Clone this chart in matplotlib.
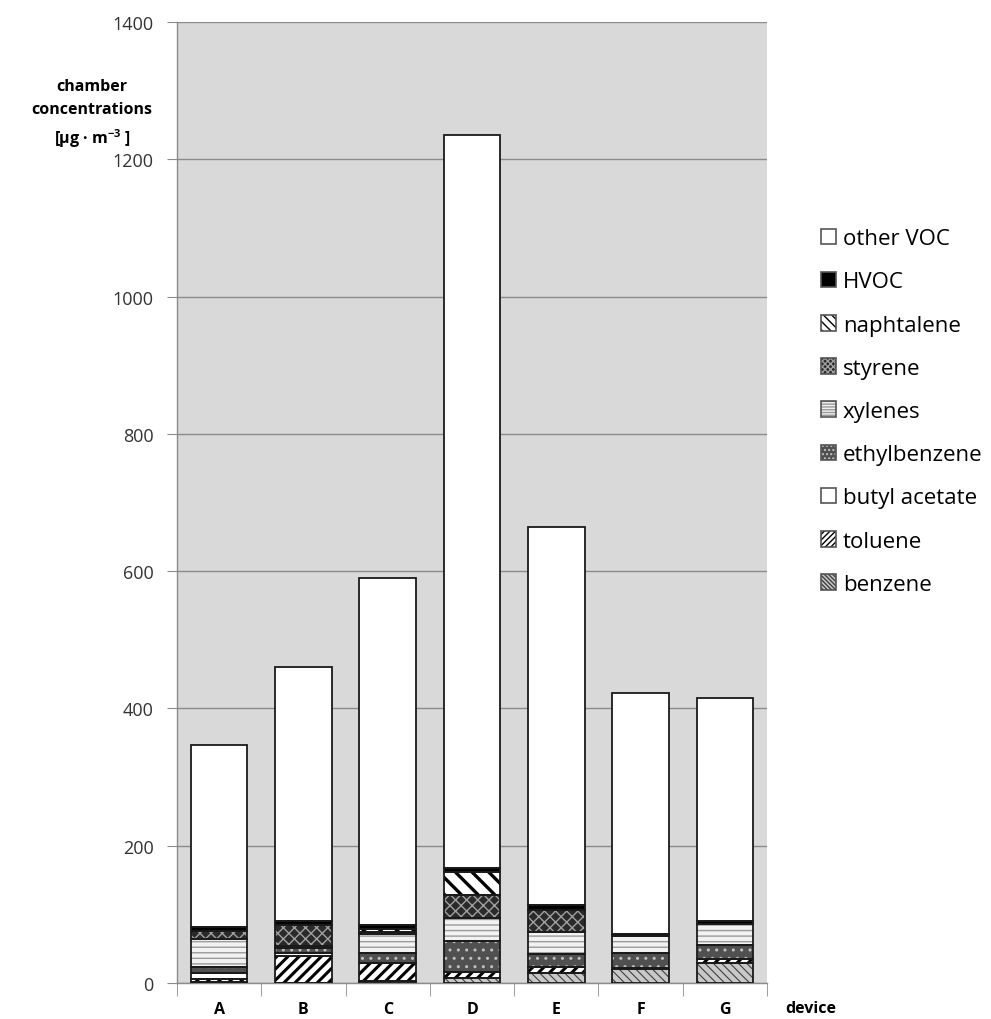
import numpy as np
import matplotlib.pyplot as plt
from matplotlib.patches import Patch
from matplotlib.legend_handler import HandlerTuple

plt.rcParams['font.family'] = ['Open Sans', 'DejaVu Sans']

# stacked chamber concentrations, bottom to top
devices = ['A', 'B', 'C', 'D', 'E', 'F', 'G']
benzene = [2, 0, 3, 8, 15, 20, 29]
toluene = [4, 39, 26, 8, 8, 2, 6]
butyl_acetate = [9, 4, 0, 0, 0, 0, 0]
ethylbenzene = [8, 8, 14, 45, 19, 21, 20]
xylenes = [41, 3, 28, 33, 32, 25, 31]
styrene = [12, 30, 3, 34, 33, 0, 0]
naphtalene = [0, 0, 4, 34, 0, 0, 0]
hvoc = [6, 7, 6, 6, 6, 3, 5]
other_voc = [265, 370, 506, 1068, 551, 352, 324]

series = [
    ('benzene', benzene),
    ('toluene', toluene),
    ('butyl acetate', butyl_acetate),
    ('ethylbenzene', ethylbenzene),
    ('xylenes', xylenes),
    ('styrene', styrene),
    ('naphtalene', naphtalene),
    ('HVOC', hvoc),
    ('other VOC', other_voc),
]

# face colour, hatch, hatch colour, hatch linewidth
styles = {
    'benzene': ('#c8c8c8', '\\\\\\\\', '#404040', 0.8),
    'toluene': ('white', '///', 'black', 2.2),
    'butyl acetate': ('white', '', 'white', 1.0),
    'ethylbenzene': ('#505050', '..', '#c0c0c0', 1.0),
    'xylenes': ('#f2f2f2', '---', '#9a9a9a', 1.0),
    'styrene': ('#2a2a2a', 'xxx', '#a0a0a0', 1.0),
    'naphtalene': ('white', '\\\\', 'black', 2.4),
    'HVOC': ('black', '', 'black', 1.0),
    'other VOC': ('white', '', 'white', 1.0),
}

fig = plt.figure(figsize=(9.91, 10.2), dpi=100)
ax = fig.add_axes([0.1786, 0.0353, 0.5954, 0.9422])
ax.set_facecolor('#d9d9d9')

x = np.arange(len(devices))
width = 0.67
bottom = np.zeros(len(devices))
handles = []
for name, vals in series:
    vals = np.array(vals, dtype=float)
    fc, hatch, hc, hlw = styles[name]
    with plt.rc_context({'hatch.linewidth': hlw}):
        bars = ax.bar(x, vals, width, bottom=bottom, color=fc, edgecolor=hc,
                      hatch=hatch, linewidth=0, zorder=3)
        for b in bars:
            if hasattr(b, 'set_hatch_linewidth'):
                b.set_hatch_linewidth(hlw)
        ax.bar(x, vals, width, bottom=bottom, fill=False, edgecolor='#1a1a1a',
               linewidth=1.3, zorder=4)
        p1 = Patch(facecolor=fc, edgecolor=hc, hatch=hatch * 2, linewidth=0)
        if hasattr(p1, 'set_hatch_linewidth'):
            p1.set_hatch_linewidth(min(hlw, 1.5))
    p2 = Patch(fill=False, edgecolor='#555555', linewidth=1.2)
    handles.append(((p1, p2), name))
    bottom += vals

ax.set_xlim(-0.5, len(devices) - 0.5)
ax.set_ylim(0, 1400)
ax.set_yticks(np.arange(0, 1401, 200))
ax.yaxis.grid(True, color='#8c8c8c', linewidth=1.0, zorder=0)
ax.set_axisbelow(True)
for s in ['top', 'right']:
    ax.spines[s].set_visible(False)
for s in ['left', 'bottom']:
    ax.spines[s].set_color('#8c8c8c')
    ax.spines[s].set_linewidth(1.0)
ax.tick_params(axis='y', length=7, color='#8c8c8c', labelsize=13, pad=10,
               labelcolor='#333333')
ax.set_xticks(x)
ax.set_xticklabels(devices, fontweight='bold', fontsize=11.5)
ax.tick_params(axis='x', length=0, pad=13)
ax.set_xticks(np.arange(-0.5, len(devices) + 0.5, 1), minor=True)
ax.tick_params(axis='x', which='minor', length=9, color='#8c8c8c')

fig.text(0.093, 0.923, 'chamber\nconcentrations\n[µg · m$^{\\mathregular{-3}}$ ]',
         ha='center', va='top', fontsize=11.5, fontweight='bold', linespacing=1.6)
fig.text(0.818, 0.003, 'device', ha='center', va='bottom', fontsize=11.5,
         fontweight='bold')

handles = handles[::-1]
fig.legend([h for h, _ in handles], [n for _, n in handles],
           handler_map={tuple: HandlerTuple(ndivide=1, pad=0)},
           loc='upper left', bbox_to_anchor=(0.808, 0.795), frameon=False,
           fontsize=16, handlelength=0.7, handleheight=0.7, handletextpad=0.3,
           labelspacing=1.0)

fig.savefig('out.png', dpi=100)
